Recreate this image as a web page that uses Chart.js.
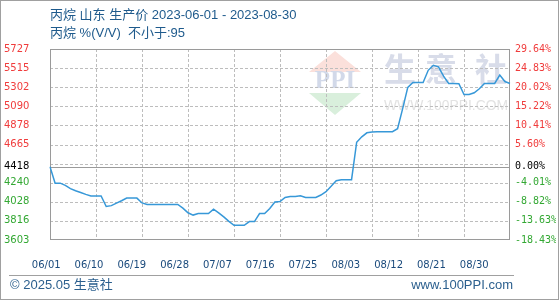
<!DOCTYPE html>
<html>
<head>
<meta charset="utf-8">
<script src="https://cdn.jsdelivr.net/npm/chart.js@4/dist/chart.umd.min.js"></script>
<style>
  html, body { margin: 0; padding: 0; background: #fff; }
  #wrap { position: relative; width: 560px; height: 300px; overflow: hidden; }
  #c { position: absolute; left: 0; top: 0; }
  #frame { position: absolute; left: 0; top: 0; width: 559px; height: 300px; box-sizing: border-box; border: 1px solid #a0a0a0; pointer-events: none; }
  .t { position: absolute; left: 50px; color: #1e5a8c; font-family: "Liberation Sans", "Noto Sans CJK SC", sans-serif; font-size: 13px; white-space: pre; line-height: 16px; }
  #t1 { top: 7px; }
  #t2 { top: 25px; }
  #foot { position: absolute; left: 9px; top: 275px; width: 505px; border-top: 1px solid #a0a0a0; }
  .f { position: absolute; top: 277px; color: #2b5f8e; font-family: "Liberation Sans", "Noto Sans CJK SC", sans-serif; font-size: 13px; line-height: 16px; white-space: pre; }
  #f1 { left: 10px; }
  #f2 { right: 47px; }
</style>
</head>
<body>
<div id="wrap">
  <canvas id="c" width="560" height="300"></canvas>
  <div class="t" id="t1">丙烷 山东 生产价 2023-06-01 - 2023-08-30</div>
  <div class="t" id="t2">丙烷 %(V/V)  不小于:95</div>
  <div id="foot"></div>
  <div class="f" id="f1">© 2025.05 生意社</div>
  <div class="f" id="f2">www.100PPI.com</div>
  <div id="frame"></div>
</div>
<script>
// data: 丙烷 山东 生产价, daily 2023-06-01 .. 2023-08-30
const startDate = '2023-06-01';
const prices = [
  4418, 4235, 4235, 4210, 4175, 4150, 4132, 4110, 4092, 4092,
  4092, 3976, 3985, 4013, 4040, 4069, 4069, 4069, 4015, 3999,
  3999, 3999, 3999, 3999, 3999, 3999, 3958, 3906, 3880, 3897,
  3897, 3897, 3946, 3905, 3860, 3810, 3767, 3767, 3767, 3808,
  3808, 3897, 3897, 3953, 4025, 4031, 4076, 4087, 4087, 4095,
  4076, 4076, 4076, 4103, 4140, 4200, 4263, 4274, 4274, 4274,
  4690, 4750, 4795, 4805, 4808, 4808, 4808, 4808, 4841, 5064,
  5300, 5355, 5355, 5355, 5490, 5546, 5528, 5425, 5344, 5344,
  5340, 5221, 5221, 5240, 5285, 5344, 5344, 5344, 5437, 5365,
  5344
];
const baseValue = 4418;           // first day price, the 0.00% line
const baseLeftLabel = '4418';
const baseRightLabel = '0.00%';

const yTicks = [3603, 3816, 4028, 4240, 4453, 4665, 4878, 5090, 5302, 5515, 5727];
const leftLabels = ['3603', '3816', '4028', '4240', '', '4665', '4878', '5090', '5302', '5515', '5727'];
const rightLabels = ['-18.43%', '-13.63%', '-8.82%', '-4.01%', '', '5.60%', '10.41%', '15.22%', '20.02%', '24.83%', '29.64%'];
const xTickLabels = ['06/01', '06/10', '06/19', '06/28', '07/07', '07/16', '07/25', '08/03', '08/12', '08/21', '08/30'];
const gridEvery = 9;              // one vertical grid line every 9 days

// date categories, one per price
let dates = [];
let d0 = new Date(startDate + 'T00:00:00');
for (let i = 0; i < prices.length; i++) {
    let d = new Date(d0.getTime() + i * 86400000);
    dates.push(String(d.getMonth() + 1).padStart(2, '0') + '/' + String(d.getDate()).padStart(2, '0'));
}

const RED = '#f03c3c', GREEN = '#33a833', GRID = '#bdbdbd';

let tickColor = c => c.tick.value > baseValue ? RED : (c.tick.value === baseValue ? '#000' : GREEN);
let setYTicks = s => {
    s.ticks = yTicks.concat([baseValue]).sort((a, b) => a - b).map(v => ({ value: v }));
};

// watermark, dashed grid, frame and the base line
const decor = {
    id: 'decor',
    beforeDraw(chart) {
        const c = chart.ctx;
        c.save();
        c.fillStyle = '#fbe0db';
        c.beginPath(); c.moveTo(335, 51); c.lineTo(361, 72); c.lineTo(309, 72); c.closePath(); c.fill();
        c.fillStyle = '#d9efdc';
        c.beginPath(); c.moveTo(309, 93); c.lineTo(361, 93); c.lineTo(335, 115); c.closePath(); c.fill();
        c.textAlign = 'center';
        c.textBaseline = 'middle';
        c.fillStyle = '#d2d9e9';
        c.font = 'bold 25px "Liberation Serif"';
        c.fillText('PPI', 335, 82, 48);
        c.fillStyle = '#d8dce9';
        c.font = 'bold 32px "Noto Sans CJK SC"';
        c.fillText('生', 400, 69);
        c.fillText('意', 441, 69);
        c.fillText('社', 491, 69);
        c.fillStyle = '#e2e2e2';
        c.font = '15px "Liberation Sans"';
        c.fillText('WWW.100PPI.COM', 446, 106, 124);
        c.restore();
    },
    beforeDatasetsDraw(chart) {
        const { ctx, chartArea: a, scales } = chart;
        ctx.save();
        ctx.lineWidth = 1;
        ctx.strokeStyle = GRID;
        ctx.setLineDash([3, 2]);
        ctx.beginPath();
        yTicks.slice(1, -1).forEach(v => {
            let py = Math.round(scales.y.getPixelForValue(v)) + 0.5;
            ctx.moveTo(a.left, py);
            ctx.lineTo(a.right, py);
        });
        for (let i = gridEvery; i < prices.length - 1; i += gridEvery) {
            let px = Math.round(scales.x.getPixelForValue(i)) + 0.5;
            ctx.moveTo(px, a.top);
            ctx.lineTo(px, a.bottom);
        }
        ctx.stroke();
        ctx.setLineDash([]);
        ctx.strokeStyle = '#9a9a9a';
        ctx.strokeRect(a.left + 0.5, a.top + 0.5, a.right - a.left - 1, a.bottom - a.top - 1);
        let yb = Math.round(scales.y.getPixelForValue(baseValue)) + 0.5;
        ctx.beginPath();
        ctx.moveTo(a.left, yb);
        ctx.lineTo(a.right, yb);
        ctx.stroke();
        ctx.restore();
    }
};

new Chart(document.getElementById('c').getContext('2d'), {
    type: 'line',
    data: {
        labels: dates,
        datasets: [{
            data: prices,
            borderColor: '#3798d8',
            borderWidth: 1.5,
            pointRadius: 0,
            fill: false,
            tension: 0,
            xAxisID: 'x',
            yAxisID: 'y'
        }]
    },
    options: {
        responsive: false,
        animation: false,
        events: [],
        layout: { padding: { left: 4, right: 4, top: 49, bottom: 0 } },
        plugins: { legend: { display: false }, tooltip: { enabled: false } },
        scales: {
            x: {
                type: 'category',
                position: 'bottom',
                weight: 0,
                ticks: { display: false },
                border: { display: false },
                grid: { display: false, drawTicks: false }
            },
            // tick labels of the time axis (they sit a bit left of the grid lines in the original)
            xl: {
                type: 'linear',
                position: 'bottom',
                weight: 1,
                min: 0.0888,
                max: 10.836,
                afterBuildTicks: s => { s.ticks = xTickLabels.map((t, i) => ({ value: i })); },
                afterFit: s => { s.height = 60; },
                grid: { display: false },
                border: { display: false },
                ticks: {
                    autoSkip: false,
                    maxRotation: 0,
                    padding: 11,
                    color: '#1a4a7c',
                    font: { family: 'DejaVu Sans', size: 10 },
                    callback: v => xTickLabels[v]
                }
            },
            y: {
                type: 'linear',
                position: 'left',
                min: yTicks[0],
                max: yTicks[yTicks.length - 1],
                afterBuildTicks: setYTicks,
                afterFit: s => { s.width = 46; },
                border: { display: false },
                grid: { display: false, drawTicks: false },
                ticks: {
                    autoSkip: false,
                    crossAlign: 'far',
                    color: tickColor,
                    font: { family: 'DejaVu Sans', size: 10 },
                    callback: v => v === baseValue ? baseLeftLabel : leftLabels[yTicks.indexOf(v)]
                }
            },
            y2: {
                type: 'linear',
                position: 'right',
                min: yTicks[0],
                max: yTicks[yTicks.length - 1],
                afterBuildTicks: setYTicks,
                afterFit: s => { s.width = 46; },
                border: { display: false },
                grid: { display: false, drawTicks: false },
                ticks: {
                    autoSkip: false,
                    padding: 5,
                    color: tickColor,
                    font: { family: 'DejaVu Sans Mono', size: 10 },
                    callback: v => v === baseValue ? baseRightLabel : rightLabels[yTicks.indexOf(v)]
                }
            }
        }
    },
    plugins: [decor]
});
</script>
</body>
</html>
